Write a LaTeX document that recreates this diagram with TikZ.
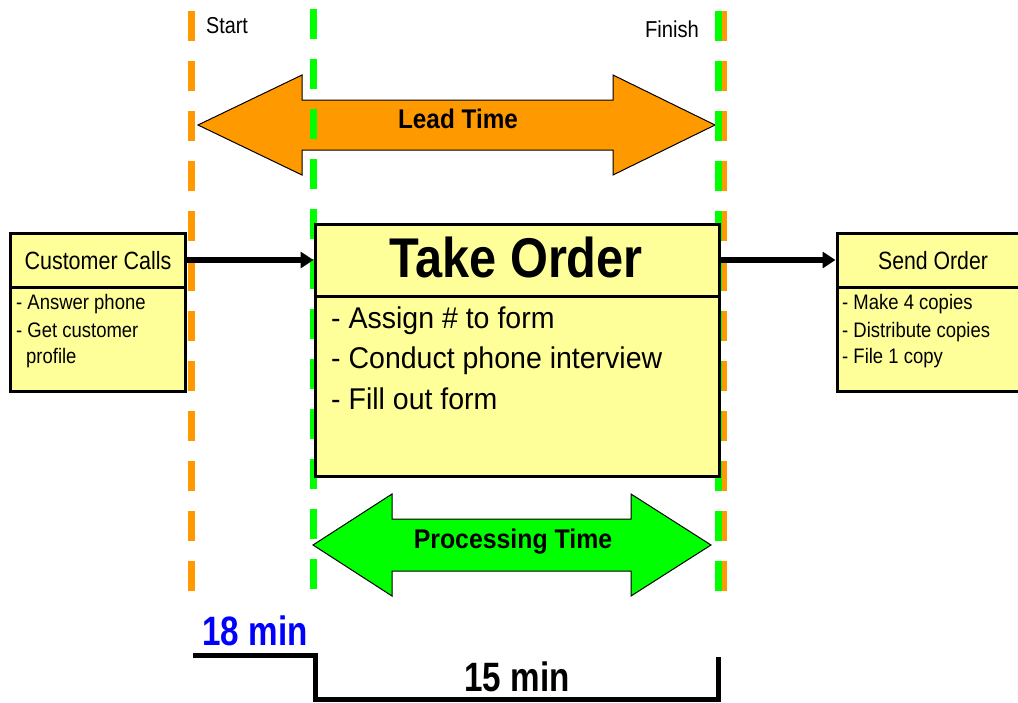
\documentclass[tikz,border=0pt]{standalone}
\usepackage{fontspec}
\usepackage{graphicx}
\setmainfont{Liberation Sans}
\usetikzlibrary{arrows.meta}

\definecolor{leadorange}{HTML}{FF9900}
\definecolor{procgreen}{HTML}{00FF00}
\definecolor{boxyellow}{HTML}{FFFF99}
\definecolor{minblue}{HTML}{0000FF}

% font size in pt and horizontal squeeze
\newcommand\fsz[1]{\fontsize{#1}{#1}\selectfont}
\newcommand\hsq[2]{\scalebox{#1}[1]{#2}}

\tikzset{
  boxpart/.style={draw=black, line width=3pt, fill=boxyellow, inner sep=0pt},
  txt/.style={inner sep=0pt, anchor=base},
  bodytxt/.style={inner sep=0pt, anchor=base west},
  blockarrow/.style={draw=black, line width=1pt, line join=miter},
  timeline/.style={line width=7pt, dash pattern=on 30pt off 20pt},
  flow/.style={line width=5.5pt, -{Triangle[length=13pt,width=16pt]}},
  bracket/.style={line width=5pt, line join=miter}
}

\begin{document}
\begin{tikzpicture}[x=1pt, y=-1pt]
\useasboundingbox (0,0) rectangle (1018,702);
\fill[white] (0,0) rectangle (1018,702);
\clip (0,0) rectangle (1018,702);

% lead time block arrow
\filldraw[blockarrow, fill=leadorange]
  (198,125) -- (302,75) -- (302,100) -- (613,100) -- (613,75) -- (715,125)
  -- (613,175) -- (613,150) -- (302,150) -- (302,175) -- cycle;

% start / finish markers
\draw[timeline, leadorange] (191,11) -- (191,591);
\draw[timeline, leadorange] (723,11) -- (723,591);
\draw[timeline, procgreen] (313,9) -- (313,589);
\draw[timeline, procgreen] (718,11) -- (718,591);

\node[txt] (start) at (227,33) {\fsz{23}\hsq{0.86}{Start}};
\node[txt] (finish) at (672,37) {\fsz{23}\hsq{0.88}{Finish}};
\node[txt] (leadlbl) at (458,128) {\fsz{27}\bfseries\hsq{0.9}{Lead Time}};

% process boxes
\node[boxpart, minimum width=175pt, minimum height=54pt] (cct) at (97.5,260) {};
\node[boxpart, minimum width=175pt, minimum height=104pt] (ccb) at (97.5,339) {};
\node[boxpart, minimum width=404pt, minimum height=72pt] (tot) at (517,260) {};
\node[boxpart, minimum width=404pt, minimum height=180pt] (tob) at (517,386) {};
\node[boxpart, minimum width=193pt, minimum height=54pt] (sot) at (933.5,260) {};
\node[boxpart, minimum width=193pt, minimum height=104pt] (sob) at (933.5,339) {};

\node[txt] (cclbl) at (98,269) {\fsz{25}\hsq{0.86}{Customer Calls}};
\node[bodytxt] (cc1) at (16,309) {\fsz{21}\hsq{0.88}{- Answer phone}};
\node[bodytxt] (cc2) at (16,337) {\fsz{21}\hsq{0.88}{- Get customer}};
\node[bodytxt] (cc3) at (26,363) {\fsz{21}\hsq{0.88}{profile}};

\node[txt] (tolbl) at (516,277) {\fsz{56}\bfseries\hsq{0.87}{Take Order}};
\node[bodytxt] (to1) at (331,328) {\fsz{30}\hsq{0.95}{- Assign \# to form}};
\node[bodytxt] (to2) at (331,368) {\fsz{30}\hsq{0.95}{- Conduct phone interview}};
\node[bodytxt] (to3) at (331,409) {\fsz{30}\hsq{0.95}{- Fill out form}};

\node[txt] (solbl) at (933,269) {\fsz{25}\hsq{0.85}{Send Order}};
\node[bodytxt] (so1) at (842,309) {\fsz{21}\hsq{0.88}{- Make 4 copies}};
\node[bodytxt] (so2) at (842,337) {\fsz{21}\hsq{0.88}{- Distribute copies}};
\node[bodytxt] (so3) at (842,363) {\fsz{21}\hsq{0.88}{- File 1 copy}};

% flow between steps
\draw[flow] (cct.east) -- (tot.west);
\draw[flow] (tot.east) -- (sot.west);

% processing time block arrow
\filldraw[blockarrow, fill=procgreen]
  (313,545) -- (392,494) -- (392,519) -- (631,519) -- (631,494) -- (711,545)
  -- (631,596) -- (631,571) -- (392,571) -- (392,596) -- cycle;
\node[txt] (proclbl) at (513,548) {\fsz{27}\bfseries\hsq{0.92}{Processing Time}};

% time bracket
\draw[bracket] (193,655) -- (315,655) -- (315,699) -- (718,699) -- (718,657);
\node[txt, text=minblue] (t18) at (255,645) {\fsz{41}\bfseries\hsq{0.81}{18 min}};
\node[txt] (t15) at (517,691) {\fsz{41}\bfseries\hsq{0.81}{15 min}};
\end{tikzpicture}
\end{document}
